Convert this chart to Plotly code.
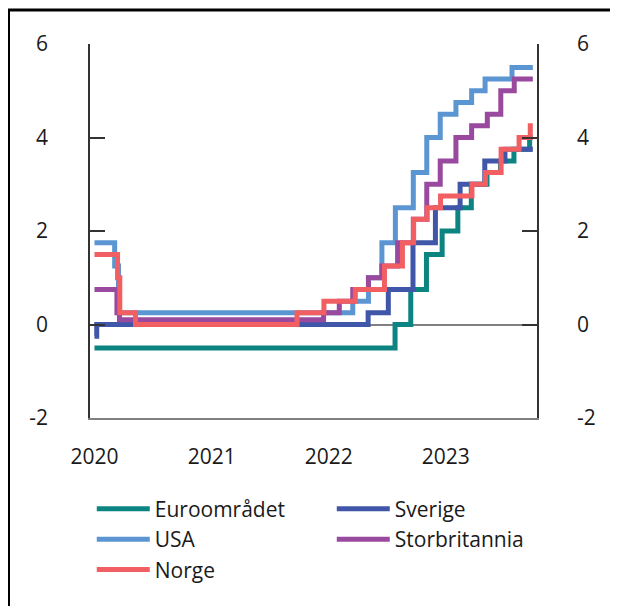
import plotly.graph_objects as go

# ---- Data: policy rates (step series), dates of change and new levels ----
END = "2023-09-30"

euro_dates = ["2020-01-01", "2022-07-27", "2022-09-14", "2022-11-02", "2022-12-21",
              "2023-02-08", "2023-03-22", "2023-05-10", "2023-06-21", "2023-08-02",
              "2023-09-20", END]
euro_rates = [-0.5, 0.0, 0.75, 1.5, 2.0, 2.5, 3.0, 3.25, 3.5, 3.75, 4.0, 4.0]

usa_dates = ["2020-01-01", "2020-03-04", "2020-03-16", "2022-03-17", "2022-05-05",
             "2022-06-16", "2022-07-28", "2022-09-22", "2022-11-03", "2022-12-15",
             "2023-02-02", "2023-03-23", "2023-05-04", "2023-07-27", END]
usa_rates = [1.75, 1.25, 0.25, 0.5, 1.0, 1.75, 2.5, 3.25, 4.0, 4.5, 4.75, 5.0, 5.25,
             5.5, 5.5]

norge_dates = ["2020-01-01", "2020-03-13", "2020-03-20", "2020-05-08", "2021-09-24",
               "2021-12-17", "2022-03-25", "2022-06-24", "2022-08-19", "2022-09-23",
               "2022-11-04", "2022-12-16", "2023-03-24", "2023-05-05", "2023-06-23",
               "2023-08-18", "2023-09-22", END]
norge_rates = [1.5, 1.0, 0.25, 0.0, 0.25, 0.5, 0.75, 1.25, 1.75, 2.25, 2.5, 2.75,
               3.0, 3.25, 3.75, 4.0, 4.25, 4.25]

sverige_dates = ["2020-01-01", "2020-01-08", "2022-05-04", "2022-07-06", "2022-09-21",
                 "2022-11-30", "2023-02-15", "2023-05-03", "2023-07-05", END]
sverige_rates = [-0.25, 0.0, 0.25, 0.75, 1.75, 2.5, 3.0, 3.5, 3.75, 3.75]

uk_dates = ["2020-01-01", "2020-03-11", "2020-03-19", "2021-12-16", "2022-02-03",
            "2022-03-17", "2022-05-05", "2022-06-16", "2022-08-04", "2022-09-22",
            "2022-11-03", "2022-12-15", "2023-02-02", "2023-03-23", "2023-05-11",
            "2023-06-22", "2023-08-03", END]
uk_rates = [0.75, 0.25, 0.1, 0.25, 0.5, 0.75, 1.0, 1.25, 1.75, 2.25, 3.0, 3.5, 4.0,
            4.25, 4.5, 5.0, 5.25, 5.25]

y_ticks = [-2, 0, 2, 4, 6]
y_tick_labels = ["-2", "0", "2", "4", "6"]
x_ticks = ["2020-01-01", "2021-01-01", "2022-01-01", "2023-01-01"]
x_tick_labels = ["2020", "2021", "2022", "2023"]

# draw order, legend rank
series = [
    ("Euroområdet", euro_dates, euro_rates, "#0b8482", 1),
    ("USA", usa_dates, usa_rates, "#5b96d2", 3),
    ("Sverige", sverige_dates, sverige_rates, "#4056a8", 2),
    ("Storbritannia", uk_dates, uk_rates, "#9a4a9e", 4),
    ("Norge", norge_dates, norge_rates, "#f25f63", 5),
]

FONT = "Open Sans"
FS = 21
TXT = "#1a1a1a"
W, H = 610, 598
L, R, T, B = 82, 529, 36, 410   # plot area in figure pixels

fig = go.Figure()
for name, d, r, c, rank in series:
    fig.add_trace(go.Scatter(
        x=d, y=r, mode="lines", name=name, legendrank=rank,
        line=dict(color=c, width=5, shape="hv"),
    ))
# invisible trace to anchor the right-hand axis
fig.add_trace(go.Scatter(x=[euro_dates[0]], y=[0], yaxis="y2", mode="lines",
                         showlegend=False, hoverinfo="skip",
                         line=dict(width=0, color="rgba(0,0,0,0)")))

axis_y = dict(
    range=[-2, 6], tickvals=y_ticks, ticktext=y_tick_labels, ticks="inside",
    ticklen=15, tickcolor="#333", tickwidth=1.5, showgrid=False,
    showline=True, linecolor="#333", linewidth=1.5,
    tickfont=dict(family=FONT, size=FS, color=TXT),
)

fig.update_layout(
    width=W, height=H,
    margin=dict(l=L, r=W - R, t=T, b=H - B),
    paper_bgcolor="white", plot_bgcolor="white",
    font=dict(family=FONT, size=FS, color=TXT),
    showlegend=True,
    legend=dict(orientation="h", x=-0.0005, xanchor="left", y=-0.189, yanchor="top",
                entrywidth=170, entrywidthmode="pixels", traceorder="normal",
                font=dict(family=FONT, size=FS, color=TXT),
                itemwidth=53, indentation=2),
    xaxis=dict(
        type="date", range=["2019-12-18", "2023-10-13"],
        tickvals=x_ticks, ticktext=x_tick_labels,
        ticks="outside", ticklen=19, tickcolor="rgba(0,0,0,0)",
        showgrid=False, showline=True, linecolor="#808080", linewidth=2,
        zeroline=False,
        tickfont=dict(family=FONT, size=FS, color=TXT),
    ),
    yaxis=dict(**axis_y, zeroline=True, zerolinecolor="#808080", zerolinewidth=2,
               ticklabelstandoff=36),
    yaxis2=dict(**axis_y, overlaying="y", side="right", zeroline=False,
                ticklabelstandoff=34),
)

# outer frame (top and left edges visible)
fig.add_shape(type="rect", xref="paper", yref="paper",
              x0=(0.5 - L) / (R - L), x1=1.6, y0=-1.0, y1=(B - 2) / (B - T),
              line=dict(color="black", width=3), fillcolor="rgba(0,0,0,0)",
              layer="above")

fig.write_html("out.html")
